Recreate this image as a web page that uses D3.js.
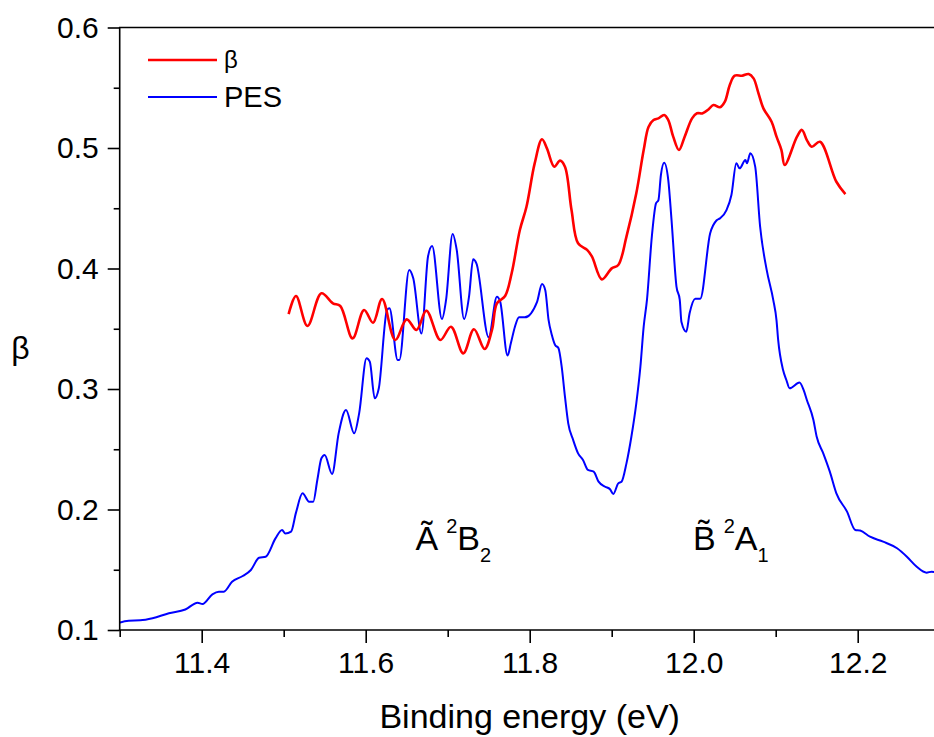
<!DOCTYPE html>
<html>
<head>
<meta charset="utf-8">
<script src="https://cdn.jsdelivr.net/npm/d3@7"></script>
<style>
  html, body { margin: 0; padding: 0; background: #fff; }
  svg { display: block; }
  text { font-family: "Liberation Sans", Arial, sans-serif; fill: #000; }
</style>
</head>
<body>
<svg id="chart" width="934" height="737"></svg>
<script>
// ---- data ----
const pesEnergy = [11.299,11.311,11.325,11.340,11.360,11.380,11.395,11.401,11.413,11.421,11.427,11.437,11.450,11.460,11.470,11.478,11.490,11.498,11.502,11.509,11.515,11.523,11.531,11.536,11.541,11.546,11.550,11.559,11.567,11.576,11.586,11.592,11.601,11.605,11.611,11.616,11.626,11.629,11.639,11.641,11.653,11.658,11.668,11.676,11.681,11.693,11.698,11.706,11.711,11.720,11.726,11.731,11.735,11.750,11.760,11.764,11.773,11.777,11.782,11.787,11.794,11.809,11.815,11.819,11.823,11.827,11.831,11.835,11.839,11.843,11.847,11.853,11.859,11.865,11.871,11.878,11.884,11.892,11.898,11.902,11.908,11.912,11.918,11.924,11.930,11.935,11.939,11.943,11.949,11.954,11.957,11.960,11.964,11.969,11.973,11.979,11.983,11.985,11.991,11.995,12.002,12.008,12.020,12.028,12.032,12.040,12.046,12.052,12.056,12.063,12.065,12.069,12.075,12.081,12.089,12.097,12.101,12.103,12.109,12.113,12.117,12.129,12.134,12.138,12.146,12.150,12.158,12.166,12.174,12.187,12.197,12.203,12.215,12.231,12.248,12.260,12.272,12.284,12.290,12.300];
const pesValue = [0.106,0.1077,0.108,0.1097,0.1139,0.117,0.1227,0.1216,0.1296,0.1318,0.1318,0.140,0.1448,0.1498,0.160,0.1608,0.176,0.183,0.180,0.1816,0.1974,0.2134,0.2065,0.2065,0.2245,0.2425,0.2452,0.2295,0.2632,0.2826,0.2632,0.2798,0.3255,0.3227,0.2923,0.3006,0.3656,0.367,0.324,0.324,0.3988,0.3919,0.346,0.410,0.4187,0.358,0.3739,0.4286,0.4154,0.358,0.3766,0.4076,0.4043,0.3429,0.3766,0.3725,0.3277,0.3379,0.3517,0.3595,0.3595,0.3724,0.3871,0.382,0.3573,0.3448,0.3365,0.334,0.3185,0.2936,0.2715,0.2577,0.2466,0.2411,0.2328,0.2314,0.2231,0.2189,0.2168,0.2129,0.2217,0.223,0.2383,0.2604,0.2881,0.3185,0.3517,0.3739,0.4269,0.454,0.4568,0.4776,0.4878,0.4734,0.440,0.385,0.374,0.3559,0.3476,0.3628,0.375,0.375,0.429,0.440,0.4416,0.4485,0.461,0.4873,0.4831,0.490,0.4873,0.4956,0.4845,0.4347,0.3988,0.374,0.357,0.3407,0.3158,0.3075,0.3006,0.3053,0.2992,0.2909,0.2743,0.2604,0.2466,0.2314,0.2134,0.1982,0.183,0.1825,0.1774,0.1733,0.1678,0.1608,0.1525,0.1476,0.1484,0.147];

const betaEnergy = [11.506,11.515,11.529,11.546,11.560,11.569,11.584,11.598,11.609,11.620,11.636,11.650,11.662,11.674,11.691,11.704,11.719,11.732,11.745,11.754,11.760,11.770,11.778,11.788,11.796,11.806,11.815,11.821,11.830,11.837,11.843,11.851,11.859,11.870,11.876,11.888,11.900,11.908,11.918,11.930,11.939,11.945,11.951,11.957,11.964,11.969,11.975,11.982,11.989,11.998,12.004,12.011,12.018,12.024,12.032,12.038,12.044,12.050,12.059,12.067,12.073,12.079,12.085,12.095,12.101,12.107,12.111,12.126,12.132,12.138,12.144,12.154,12.174,12.185];
const betaValue = [0.3622,0.3772,0.3523,0.3794,0.3711,0.3689,0.342,0.3656,0.355,0.3747,0.3407,0.3578,0.349,0.365,0.3407,0.3517,0.3296,0.3496,0.3332,0.349,0.3711,0.3772,0.396,0.432,0.451,0.487,0.5072,0.4997,0.4845,0.4895,0.4845,0.4485,0.4209,0.4154,0.4098,0.391,0.4001,0.4029,0.4264,0.4624,0.4983,0.5177,0.5232,0.5246,0.5274,0.5232,0.5094,0.4983,0.5094,0.5246,0.5288,0.5288,0.532,0.5357,0.5338,0.5385,0.5523,0.560,0.560,0.5614,0.5578,0.5454,0.5329,0.5218,0.5094,0.4983,0.4859,0.5094,0.515,0.5066,0.501,0.5052,0.472,0.4618];

const xMajorTicks = [11.4, 11.6, 11.8, 12.0, 12.2];
const xMinorTicks = [11.3, 11.5, 11.7, 11.9, 12.1];
const yMajorTicks = [0.1, 0.2, 0.3, 0.4, 0.5, 0.6];
const yMinorTicks = [0.15, 0.25, 0.35, 0.45, 0.55];
const seriesNames = ["β", "PES"];
const seriesColors = ["#ff0000", "#0000ff"];
const xTitle = "Binding energy (eV)";
const yTitle = "β";

// ---- layout ----
const svg = d3.select("#chart");
const mLeft = 119.7, mTop = 27.5, plotW = 820, plotH = 602.5;
const x = d3.scaleLinear().domain([11.3, 12.3]).range([mLeft, mLeft + plotW]);
const y = d3.scaleLinear().domain([0.1, 0.6]).range([mTop + plotH, mTop]);

svg.append("defs").append("clipPath").attr("id", "clip")
  .append("rect").attr("x", mLeft).attr("y", mTop).attr("width", plotW).attr("height", plotH);

const pes = pesEnergy.map((e, i) => [e, pesValue[i]]);
const beta = betaEnergy.map((e, i) => [e, betaValue[i]]);

const g = svg.append("g").attr("clip-path", "url(#clip)");
g.append("path").datum(pes)
  .attr("d", d3.line().x(d => x(d[0])).y(d => y(d[1])).curve(d3.curveMonotoneX))
  .attr("fill", "none").attr("stroke", seriesColors[1]).attr("stroke-width", 2)
  .attr("stroke-linejoin", "round");
g.append("path").datum(beta)
  .attr("d", d3.line().x(d => x(d[0])).y(d => y(d[1])).curve(d3.curveCatmullRom.alpha(0.5)))
  .attr("fill", "none").attr("stroke", seriesColors[0]).attr("stroke-width", 2.6)
  .attr("stroke-linejoin", "round");

// ---- axes ----
const fmt = d3.format(".1f");
const axisFont = 30;

const xMinor = svg.append("g").attr("transform", `translate(0,${mTop + plotH})`)
  .call(d3.axisBottom(x).tickValues(xMinorTicks).tickSize(7).tickSizeOuter(0).tickFormat(""));
const xMajor = svg.append("g").attr("transform", `translate(0,${mTop + plotH})`)
  .call(d3.axisBottom(x).tickValues(xMajorTicks).tickSize(13).tickPadding(9).tickSizeOuter(0).tickFormat(fmt));
const yMinor = svg.append("g").attr("transform", `translate(${mLeft},0)`)
  .call(d3.axisLeft(y).tickValues(yMinorTicks).tickSize(6).tickSizeOuter(0).tickFormat(""));
const yMajor = svg.append("g").attr("transform", `translate(${mLeft},0)`)
  .call(d3.axisLeft(y).tickValues(yMajorTicks).tickSize(12).tickPadding(9).tickSizeOuter(0).tickFormat(fmt));

[xMinor, xMajor, yMinor, yMajor].forEach(a => {
  a.selectAll(".domain").remove();
  a.selectAll("line").attr("stroke", "#000").attr("stroke-width", 1.6);
  a.selectAll("text").attr("font-size", axisFont)
    .attr("font-family", "'Liberation Sans', Arial, sans-serif").attr("fill", "#000");
});

// frame lines (left, bottom, top, right)
const frame = svg.append("g").attr("stroke", "#000").attr("stroke-width", 1.6).attr("fill", "none");
frame.append("line").attr("x1", mLeft).attr("x2", mLeft).attr("y1", mTop).attr("y2", mTop + plotH);
frame.append("line").attr("x1", mLeft - 0.8).attr("x2", mLeft + plotW).attr("y1", mTop + plotH).attr("y2", mTop + plotH);
frame.append("line").attr("x1", mLeft - 0.8).attr("x2", mLeft + plotW).attr("y1", mTop).attr("y2", mTop);
frame.append("line").attr("x1", mLeft + plotW).attr("x2", mLeft + plotW).attr("y1", mTop).attr("y2", mTop + plotH);

// axis titles
svg.append("text").attr("x", mLeft + plotW / 2).attr("y", 728)
  .attr("text-anchor", "middle").attr("font-size", 34).text(xTitle);
svg.append("text").attr("x", 20.5).attr("y", 359)
  .attr("text-anchor", "middle").attr("font-size", 32).text(yTitle);

// ---- legend ----
const legendY = [60, 97];
seriesNames.forEach((name, i) => {
  svg.append("line").attr("x1", 148).attr("x2", 217).attr("y1", legendY[i]).attr("y2", legendY[i])
    .attr("stroke", seriesColors[i]).attr("stroke-width", i === 0 ? 2.6 : 2);
  svg.append("text").attr("x", 224).attr("y", legendY[i]).attr("dy", "0.35em")
    .attr("font-size", i === 0 ? 24 : 29).text(name);
});

// ---- state annotations (letter with combining tilde, superscript, subscript) ----
function stateLabel(xPos, letter, sup, main, idx) {
  const t = svg.append("text").attr("x", xPos).attr("y", 550).attr("font-size", 34);
  t.append("tspan").text(letter + "\u0303");
  t.append("tspan").attr("dx", 8).attr("dy", -17).attr("font-size", 20).text(sup);
  t.append("tspan").attr("dy", 17).text(main);
  t.append("tspan").attr("dy", 12).attr("font-size", 20).text(idx);
  return t;
}
stateLabel(415.5, "A", "2", "B", "2");
stateLabel(693, "B", "2", "A", "1");
</script>
</body>
</html>
